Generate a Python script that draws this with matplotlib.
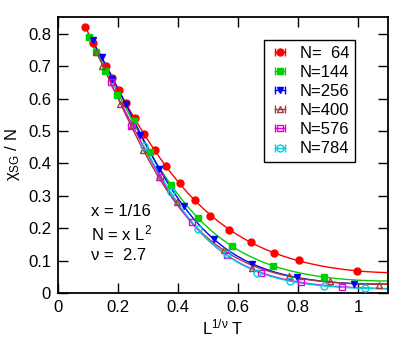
import numpy as np
import matplotlib
matplotlib.use("Agg")
import matplotlib.pyplot as plt
from matplotlib.lines import Line2D
from matplotlib.legend_handler import HandlerLine2D, HandlerTuple

plt.rcParams['font.family'] = ['Liberation Sans', 'DejaVu Sans']
plt.rcParams['mathtext.fontset'] = 'custom'
plt.rcParams['mathtext.rm'] = 'Liberation Sans'
plt.rcParams['mathtext.it'] = 'Liberation Sans'

labels = ["N=  64", "N=144", "N=256", "N=400", "N=576", "N=784"]
colors = ["#ff0000", "#00d000", "#0000ff", "#a03c3c", "#e000e0", "#00d0d8"]
markers = ["o", "s", "v", "^", "s", "o"]
filled = [True, True, True, False, False, False]

x64 = [0.090, 0.117, 0.159, 0.179, 0.204, 0.226, 0.255, 0.285, 0.322, 0.361,
       0.405, 0.455, 0.508, 0.571, 0.642, 0.719, 0.804, 0.997]
y64 = [0.821, 0.772, 0.700, 0.664, 0.627, 0.586, 0.540, 0.492, 0.442, 0.391,
       0.339, 0.287, 0.239, 0.196, 0.156, 0.123, 0.101, 0.068]
x144 = [0.103, 0.128, 0.157, 0.197, 0.252, 0.308, 0.377, 0.468, 0.579, 0.717, 0.888]
y144 = [0.792, 0.743, 0.687, 0.612, 0.530, 0.434, 0.334, 0.231, 0.144, 0.084, 0.049]
x256 = [0.115, 0.145, 0.181, 0.226, 0.274, 0.338, 0.419, 0.519, 0.645, 0.798, 0.987]
y256 = [0.780, 0.728, 0.662, 0.584, 0.489, 0.383, 0.270, 0.167, 0.090, 0.048, 0.029]
x400 = [0.126, 0.146, 0.208, 0.248, 0.283, 0.336, 0.396, 0.554, 0.648, 0.770, 0.908, 1.069]
y400 = [0.743, 0.700, 0.584, 0.520, 0.442, 0.358, 0.280, 0.134, 0.078, 0.051, 0.036, 0.026]
x576 = [0.175, 0.244, 0.341, 0.447, 0.563, 0.676, 0.809, 0.945]
y576 = [0.653, 0.516, 0.357, 0.218, 0.118, 0.062, 0.033, 0.019]
x784 = [0.285, 0.375, 0.468, 0.563, 0.663, 0.772, 0.886, 1.024]
y784 = [0.453, 0.311, 0.198, 0.121, 0.062, 0.036, 0.023, 0.014]

xs = [x64, x144, x256, x400, x576, x784]
ys = [y64, y144, y256, y400, y576, y784]

fig = plt.figure(figsize=(4.15, 3.56), dpi=100)
ax = fig.add_axes([0.1398, 0.177, 0.7952, 0.775])

handles = []
hmap = {}
for x, y, c, m, f, lab in zip(xs, ys, colors, markers, filled, labels):
    x = np.array(x); y = np.array(y)
    coef = np.polyfit(x, np.log(y), 3)
    xf = np.linspace(x.min(), 1.1, 300)
    ax.plot(xf, np.exp(np.polyval(coef, xf)), color=c, lw=1.0, zorder=2)
    ax.plot(x, y, linestyle='none', marker=m, markersize=5,
            markerfacecolor=c if f else 'none', markeredgecolor=c,
            markeredgewidth=1.0, zorder=3)
    cap = Line2D([], [], color=c, lw=1.0, marker='|', markersize=6, markeredgewidth=1.0)
    mk = Line2D([], [], color=c, linestyle='none', marker=m, markersize=5,
                markerfacecolor=c if f else 'none', markeredgecolor=c, markeredgewidth=1.0)
    hmap[cap] = HandlerLine2D(numpoints=2)
    hmap[mk] = HandlerLine2D(numpoints=1)
    handles.append((cap, mk))

hmap[tuple] = HandlerTuple(ndivide=1, pad=0)
leg = ax.legend(handles, labels, handler_map=hmap, loc='upper right',
                bbox_to_anchor=(0.9, 0.918), fontsize=12, frameon=True,
                fancybox=False, edgecolor='black', framealpha=1,
                handlelength=1.25, handletextpad=0.55, labelspacing=0.25,
                borderpad=0.35, borderaxespad=0)
leg.get_frame().set_linewidth(1.0)

ax.set_xlim(0, 1.1)
ax.set_ylim(0, 0.852)
ax.set_xticks([0, 0.2, 0.4, 0.6, 0.8, 1.0])
ax.set_xticklabels(["0", "0.2", "0.4", "0.6", "0.8", "1"])
ax.set_yticks([0, 0.1, 0.2, 0.3, 0.4, 0.5, 0.6, 0.7, 0.8])
ax.set_yticklabels(["0", "0.1", "0.2", "0.3", "0.4", "0.5", "0.6", "0.7", "0.8"])
ax.tick_params(direction='in', length=7, width=1.0, top=True, right=True,
               labelsize=12, pad=5)
for s in ax.spines.values():
    s.set_linewidth(1.3)

ax.set_xlabel(r"$\mathregular{L^{1/ν}\ T}$", fontsize=12, labelpad=2)
ax.set_ylabel(r"$\mathregular{χ_{SG}}$ / N", fontsize=12, labelpad=4)

ax.text(0.11, 0.253, "x = 1/16", fontsize=12, va='center')
ax.text(0.11, 0.185, r"N = x L$\mathregular{^2}$", fontsize=12, va='center')
ax.text(0.11, 0.117, "ν =  2.7", fontsize=12, va='center')

fig.savefig("out.png", dpi=100)
